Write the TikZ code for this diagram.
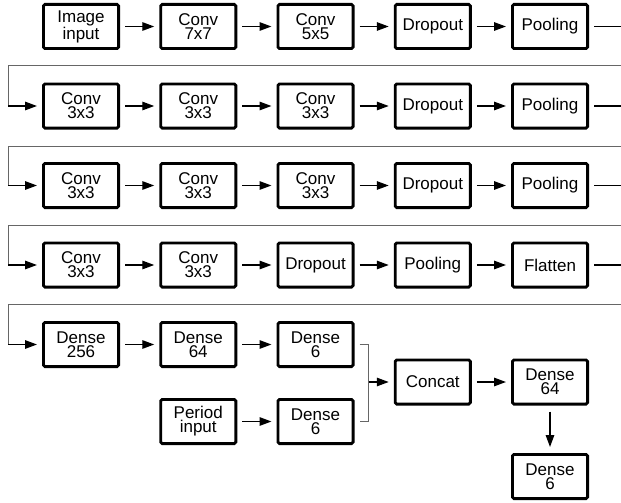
\documentclass[tikz,border=0pt]{standalone}
\usepackage{fontspec}
\setmainfont{Liberation Sans}
\usetikzlibrary{arrows.meta, positioning}

\begin{document}
\begin{tikzpicture}[x=1pt, y=-1pt, >={Triangle[length=12pt,width=8.5pt]}, semithick]
    \tikzstyle{layer}=[shape=rectangle, fill=none, draw=black, text=black, line width=2.8pt, rounded corners=1.5pt, minimum width=75.2pt, minimum height=44.2pt, inner sep=0pt, align=center, font=\fontsize{17}{14}\selectfont]
    \tikzstyle{flow}=[->, line width=1.4pt, shorten >=5pt, shorten <=5pt]
    \tikzstyle{wrap}=[draw=black!60, line width=1pt]

    \useasboundingbox (0,0) rectangle (621,503);

    % row 1
    \node[layer]  (s11) at (81, 26.5)     {Image\\input};
    \node[layer]  (s12) at (198.25, 26.5) {Conv\\7x7};
    \node[layer]  (s13) at (315.5, 26.5)  {Conv\\5x5};
    \node[layer]  (s14) at (432.75, 26.5) {Dropout};
    \node[layer]  (s15) at (550, 26.5)    {Pooling};

    % row 2
    \node[layer]  (s21) at (81, 106)      {Conv\\3x3};
    \node[layer]  (s22) at (198.25, 106)  {Conv\\3x3};
    \node[layer]  (s23) at (315.5, 106)   {Conv\\3x3};
    \node[layer]  (s24) at (432.75, 106)  {Dropout};
    \node[layer]  (s25) at (550, 106)     {Pooling};

    % row 3
    \node[layer]  (s31) at (81, 185.5)     {Conv\\3x3};
    \node[layer]  (s32) at (198.25, 185.5) {Conv\\3x3};
    \node[layer]  (s33) at (315.5, 185.5)  {Conv\\3x3};
    \node[layer]  (s34) at (432.75, 185.5) {Dropout};
    \node[layer]  (s35) at (550, 185.5)    {Pooling};

    % row 4
    \node[layer]  (s41) at (81, 265)      {Conv\\3x3};
    \node[layer]  (s42) at (198.25, 265)  {Conv\\3x3};
    \node[layer]  (s43) at (315.5, 265)   {Dropout};
    \node[layer]  (s44) at (432.75, 265)  {Pooling};
    \node[layer]  (s45) at (550, 265)     {Flatten};

    % dense part
    \node[layer]  (s51) at (81, 344.5)     {Dense\\256};
    \node[layer]  (s52) at (198.25, 344.5) {Dense\\64};
    \node[layer]  (s53) at (315.5, 344.5)  {Dense\\6};
    \node[layer]  (s62) at (198.25, 421.5) {Period\\input};
    \node[layer]  (s63) at (315.5, 421.5)  {Dense\\6};

    \node[layer]  (cat) at (432.75, 382)   {Concat};
    \node[layer]  (d64) at (550, 382)      {Dense\\64};
    \node[layer]  (d6)  at (550, 476.5)    {Dense\\6};

    % wrap points
    \coordinate (r2) at (621, 66);
    \coordinate (l2) at (8, 66);
    \coordinate (r3) at (621, 146);
    \coordinate (l3) at (8, 146);
    \coordinate (r4) at (621, 225.5);
    \coordinate (l4) at (8, 225.5);
    \coordinate (r5) at (621, 304.5);
    \coordinate (l5) at (8, 304.5);

    \path
    (s11) edge[flow] (s12)
    (s12) edge[flow] (s13)
    (s13) edge[flow] (s14)
    (s14) edge[flow] (s15)
    (s21) edge[flow] (s22)
    (s22) edge[flow] (s23)
    (s23) edge[flow] (s24)
    (s24) edge[flow] (s25)
    (s31) edge[flow] (s32)
    (s32) edge[flow] (s33)
    (s33) edge[flow] (s34)
    (s34) edge[flow] (s35)
    (s41) edge[flow] (s42)
    (s42) edge[flow] (s43)
    (s43) edge[flow] (s44)
    (s44) edge[flow] (s45)
    (s51) edge[flow] (s52)
    (s52) edge[flow] (s53)
    (s62) edge[flow] (s63)
    (cat) edge[flow] (d64)
    (d64) edge[flow, shorten <=6pt, shorten >=6pt] (d6)
    ;

    % line breaks between rows
    \draw[line width=1.4pt, shorten <=5pt] (s15.east) -- (s15.east -| r2);
    \draw[line width=1.4pt, shorten <=5pt] (s25.east) -- (s25.east -| r3);
    \draw[line width=1.4pt, shorten <=5pt] (s35.east) -- (s35.east -| r4);
    \draw[line width=1.4pt, shorten <=5pt] (s45.east) -- (s45.east -| r5);

    \draw[wrap] (r2) -- (l2) -- (l2 |- s21.west);
    \draw[wrap] (r3) -- (l3) -- (l3 |- s31.west);
    \draw[wrap] (r4) -- (l4) -- (l4 |- s41.west);
    \draw[wrap] (r5) -- (l5) -- (l5 |- s51.west);
    \draw[flow, shorten <=0pt] (l2 |- s21.west) -- (s21.west);
    \draw[flow, shorten <=0pt] (l3 |- s31.west) -- (s31.west);
    \draw[flow, shorten <=0pt] (l4 |- s41.west) -- (s41.west);
    \draw[flow, shorten <=0pt] (l5 |- s51.west) -- (s51.west);

    % merge into concat
    \draw[wrap] ([xshift=5pt]s53.east) -- ++(9,0) coordinate (brk) |- ([xshift=5pt]s63.east);
    \draw[flow, shorten <=0pt] (brk |- cat.west) -- (cat.west);

\end{tikzpicture}
\end{document}
